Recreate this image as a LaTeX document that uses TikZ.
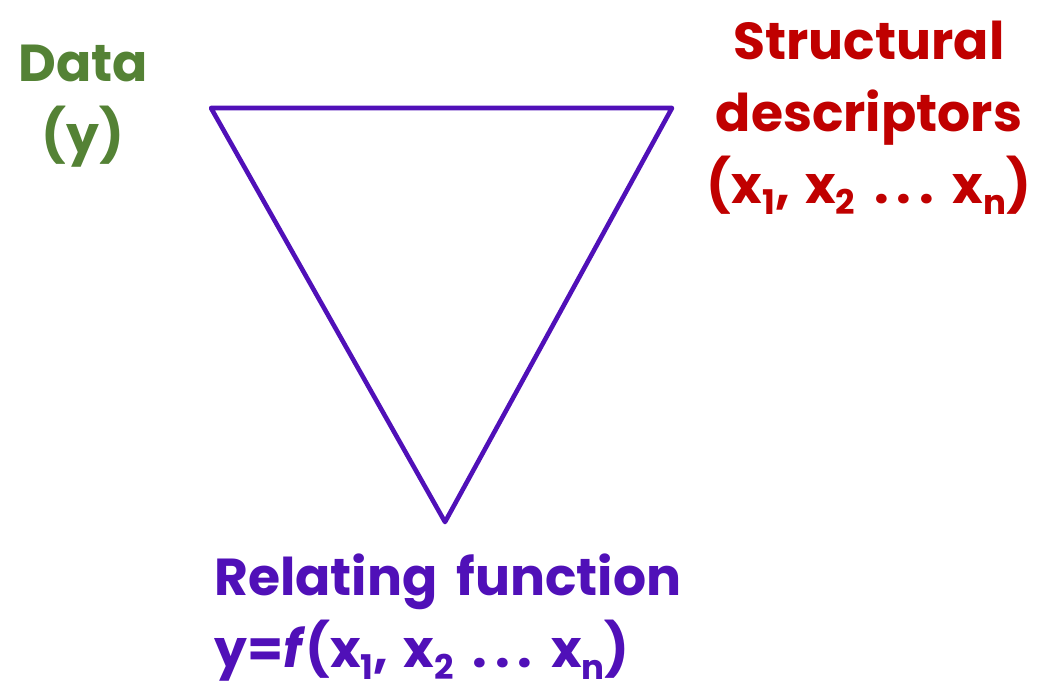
\documentclass[tikz,border=0pt]{standalone}
\usepackage{fontspec}
\setmainfont{Poppins}
\definecolor{dgreen}{HTML}{548235}
\definecolor{dred}{HTML}{C00000}
\definecolor{dpurple}{HTML}{5010B8}
\newcommand{\lowsub}[1]{\raisebox{-0.22em}{\fontsize{34}{34}\selectfont #1}}
\newcommand{\spdots}{\hspace{8pt}.\hspace{8pt}.\hspace{8pt}.\hspace{4pt}}
\tikzset{
  lbl/.style={align=center, inner sep=0pt, font=\fontsize{52}{72}\selectfont\bfseries},
  tri/.style={draw=dpurple, line width=4.6pt, line join=round}
}
\begin{document}
\begin{tikzpicture}[x=1pt,y=-1pt]
\useasboundingbox (0,0) rectangle (1044,688);
\coordinate (A) at (211,108);
\coordinate (B) at (672,108);
\coordinate (C) at (445,522);
\draw[tri] (A) -- (B) -- (C) -- cycle;
\node[lbl, text=dgreen] (data) at (83,106) {Data\\(y)};
\node[lbl, text=dred] (desc) at (869,118) {Structural\\descriptors\\(x\lowsub{1},\hspace{4pt} x\lowsub{2} \spdots{} x\lowsub{n})};
\node[lbl, text=dpurple, align=left, anchor=west] (func) at (214,618) {Relating\hspace{8pt} function\\y=\textit{f}(x\lowsub{1},\hspace{4pt} x\lowsub{2} \spdots{} x\lowsub{n})};
\end{tikzpicture}
\end{document}
